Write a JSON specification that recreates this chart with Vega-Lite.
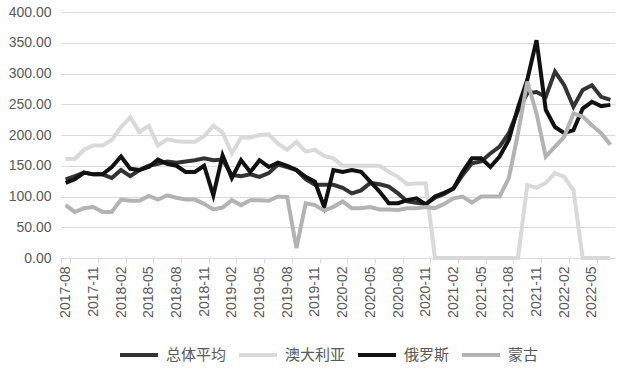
{
"$schema": "https://vega.github.io/schema/vega-lite/v6.json",
"width": 554, "height": 246,
"autosize": {"type": "none"},
"padding": {"left": 61, "top": 12, "right": 7, "bottom": 113},
"background": "white",
"config": {"view": {"stroke": null}},
"data": {"values": [
{"m":"2017-08","s":"总体平均","v":128},{"m":"2017-09","s":"总体平均","v":133},{"m":"2017-10","s":"总体平均","v":139},{"m":"2017-11","s":"总体平均","v":136},{"m":"2017-12","s":"总体平均","v":136},{"m":"2018-01","s":"总体平均","v":130},{"m":"2018-02","s":"总体平均","v":143},{"m":"2018-03","s":"总体平均","v":133},{"m":"2018-04","s":"总体平均","v":143},{"m":"2018-05","s":"总体平均","v":150},{"m":"2018-06","s":"总体平均","v":153},{"m":"2018-07","s":"总体平均","v":157},{"m":"2018-08","s":"总体平均","v":155},{"m":"2018-09","s":"总体平均","v":157},{"m":"2018-10","s":"总体平均","v":159},{"m":"2018-11","s":"总体平均","v":162},{"m":"2018-12","s":"总体平均","v":159},{"m":"2019-01","s":"总体平均","v":160},{"m":"2019-02","s":"总体平均","v":135},{"m":"2019-03","s":"总体平均","v":133},{"m":"2019-04","s":"总体平均","v":136},{"m":"2019-05","s":"总体平均","v":132},{"m":"2019-06","s":"总体平均","v":138},{"m":"2019-07","s":"总体平均","v":152},{"m":"2019-08","s":"总体平均","v":148},{"m":"2019-09","s":"总体平均","v":143},{"m":"2019-10","s":"总体平均","v":128},{"m":"2019-11","s":"总体平均","v":119},{"m":"2019-12","s":"总体平均","v":119},{"m":"2020-01","s":"总体平均","v":119},{"m":"2020-02","s":"总体平均","v":114},{"m":"2020-03","s":"总体平均","v":105},{"m":"2020-04","s":"总体平均","v":110},{"m":"2020-05","s":"总体平均","v":122},{"m":"2020-06","s":"总体平均","v":120},{"m":"2020-07","s":"总体平均","v":116},{"m":"2020-08","s":"总体平均","v":105},{"m":"2020-09","s":"总体平均","v":92},{"m":"2020-10","s":"总体平均","v":90},{"m":"2020-11","s":"总体平均","v":88},{"m":"2020-12","s":"总体平均","v":98},{"m":"2021-01","s":"总体平均","v":104},{"m":"2021-02","s":"总体平均","v":113},{"m":"2021-03","s":"总体平均","v":135},{"m":"2021-04","s":"总体平均","v":154},{"m":"2021-05","s":"总体平均","v":157},{"m":"2021-06","s":"总体平均","v":170},{"m":"2021-07","s":"总体平均","v":181},{"m":"2021-08","s":"总体平均","v":203},{"m":"2021-09","s":"总体平均","v":240},{"m":"2021-10","s":"总体平均","v":268},{"m":"2021-11","s":"总体平均","v":270},{"m":"2021-12","s":"总体平均","v":262},{"m":"2022-01","s":"总体平均","v":303},{"m":"2022-02","s":"总体平均","v":281},{"m":"2022-03","s":"总体平均","v":246},{"m":"2022-04","s":"总体平均","v":273},{"m":"2022-05","s":"总体平均","v":281},{"m":"2022-06","s":"总体平均","v":262},{"m":"2022-07","s":"总体平均","v":257},
{"m":"2017-08","s":"澳大利亚","v":161},{"m":"2017-09","s":"澳大利亚","v":161},{"m":"2017-10","s":"澳大利亚","v":176},{"m":"2017-11","s":"澳大利亚","v":183},{"m":"2017-12","s":"澳大利亚","v":183},{"m":"2018-01","s":"澳大利亚","v":192},{"m":"2018-02","s":"澳大利亚","v":213},{"m":"2018-03","s":"澳大利亚","v":229},{"m":"2018-04","s":"澳大利亚","v":205},{"m":"2018-05","s":"澳大利亚","v":215},{"m":"2018-06","s":"澳大利亚","v":183},{"m":"2018-07","s":"澳大利亚","v":193},{"m":"2018-08","s":"澳大利亚","v":190},{"m":"2018-09","s":"澳大利亚","v":189},{"m":"2018-10","s":"澳大利亚","v":189},{"m":"2018-11","s":"澳大利亚","v":198},{"m":"2018-12","s":"澳大利亚","v":215},{"m":"2019-01","s":"澳大利亚","v":204},{"m":"2019-02","s":"澳大利亚","v":170},{"m":"2019-03","s":"澳大利亚","v":196},{"m":"2019-04","s":"澳大利亚","v":196},{"m":"2019-05","s":"澳大利亚","v":200},{"m":"2019-06","s":"澳大利亚","v":201},{"m":"2019-07","s":"澳大利亚","v":186},{"m":"2019-08","s":"澳大利亚","v":176},{"m":"2019-09","s":"澳大利亚","v":189},{"m":"2019-10","s":"澳大利亚","v":173},{"m":"2019-11","s":"澳大利亚","v":176},{"m":"2019-12","s":"澳大利亚","v":166},{"m":"2020-01","s":"澳大利亚","v":162},{"m":"2020-02","s":"澳大利亚","v":150},{"m":"2020-03","s":"澳大利亚","v":150},{"m":"2020-04","s":"澳大利亚","v":150},{"m":"2020-05","s":"澳大利亚","v":150},{"m":"2020-06","s":"澳大利亚","v":150},{"m":"2020-07","s":"澳大利亚","v":140},{"m":"2020-08","s":"澳大利亚","v":132},{"m":"2020-09","s":"澳大利亚","v":120},{"m":"2020-10","s":"澳大利亚","v":121},{"m":"2020-11","s":"澳大利亚","v":121},{"m":"2020-12","s":"澳大利亚","v":0},{"m":"2021-01","s":"澳大利亚","v":0},{"m":"2021-02","s":"澳大利亚","v":0},{"m":"2021-03","s":"澳大利亚","v":0},{"m":"2021-04","s":"澳大利亚","v":0},{"m":"2021-05","s":"澳大利亚","v":0},{"m":"2021-06","s":"澳大利亚","v":0},{"m":"2021-07","s":"澳大利亚","v":0},{"m":"2021-08","s":"澳大利亚","v":0},{"m":"2021-09","s":"澳大利亚","v":0},{"m":"2021-10","s":"澳大利亚","v":119},{"m":"2021-11","s":"澳大利亚","v":114},{"m":"2021-12","s":"澳大利亚","v":122},{"m":"2022-01","s":"澳大利亚","v":138},{"m":"2022-02","s":"澳大利亚","v":132},{"m":"2022-03","s":"澳大利亚","v":110},{"m":"2022-04","s":"澳大利亚","v":0},{"m":"2022-05","s":"澳大利亚","v":0},{"m":"2022-06","s":"澳大利亚","v":0},{"m":"2022-07","s":"澳大利亚","v":0},
{"m":"2017-08","s":"俄罗斯","v":122},{"m":"2017-09","s":"俄罗斯","v":128},{"m":"2017-10","s":"俄罗斯","v":139},{"m":"2017-11","s":"俄罗斯","v":136},{"m":"2017-12","s":"俄罗斯","v":136},{"m":"2018-01","s":"俄罗斯","v":148},{"m":"2018-02","s":"俄罗斯","v":165},{"m":"2018-03","s":"俄罗斯","v":145},{"m":"2018-04","s":"俄罗斯","v":143},{"m":"2018-05","s":"俄罗斯","v":148},{"m":"2018-06","s":"俄罗斯","v":160},{"m":"2018-07","s":"俄罗斯","v":153},{"m":"2018-08","s":"俄罗斯","v":150},{"m":"2018-09","s":"俄罗斯","v":140},{"m":"2018-10","s":"俄罗斯","v":140},{"m":"2018-11","s":"俄罗斯","v":150},{"m":"2018-12","s":"俄罗斯","v":102},{"m":"2019-01","s":"俄罗斯","v":167},{"m":"2019-02","s":"俄罗斯","v":130},{"m":"2019-03","s":"俄罗斯","v":159},{"m":"2019-04","s":"俄罗斯","v":140},{"m":"2019-05","s":"俄罗斯","v":159},{"m":"2019-06","s":"俄罗斯","v":148},{"m":"2019-07","s":"俄罗斯","v":155},{"m":"2019-08","s":"俄罗斯","v":150},{"m":"2019-09","s":"俄罗斯","v":143},{"m":"2019-10","s":"俄罗斯","v":132},{"m":"2019-11","s":"俄罗斯","v":124},{"m":"2019-12","s":"俄罗斯","v":83},{"m":"2020-01","s":"俄罗斯","v":143},{"m":"2020-02","s":"俄罗斯","v":140},{"m":"2020-03","s":"俄罗斯","v":143},{"m":"2020-04","s":"俄罗斯","v":140},{"m":"2020-05","s":"俄罗斯","v":124},{"m":"2020-06","s":"俄罗斯","v":108},{"m":"2020-07","s":"俄罗斯","v":89},{"m":"2020-08","s":"俄罗斯","v":89},{"m":"2020-09","s":"俄罗斯","v":94},{"m":"2020-10","s":"俄罗斯","v":97},{"m":"2020-11","s":"俄罗斯","v":87},{"m":"2020-12","s":"俄罗斯","v":100},{"m":"2021-01","s":"俄罗斯","v":106},{"m":"2021-02","s":"俄罗斯","v":113},{"m":"2021-03","s":"俄罗斯","v":140},{"m":"2021-04","s":"俄罗斯","v":162},{"m":"2021-05","s":"俄罗斯","v":162},{"m":"2021-06","s":"俄罗斯","v":148},{"m":"2021-07","s":"俄罗斯","v":165},{"m":"2021-08","s":"俄罗斯","v":192},{"m":"2021-09","s":"俄罗斯","v":245},{"m":"2021-10","s":"俄罗斯","v":290},{"m":"2021-11","s":"俄罗斯","v":354},{"m":"2021-12","s":"俄罗斯","v":241},{"m":"2022-01","s":"俄罗斯","v":213},{"m":"2022-02","s":"俄罗斯","v":203},{"m":"2022-03","s":"俄罗斯","v":208},{"m":"2022-04","s":"俄罗斯","v":243},{"m":"2022-05","s":"俄罗斯","v":254},{"m":"2022-06","s":"俄罗斯","v":247},{"m":"2022-07","s":"俄罗斯","v":249},
{"m":"2017-08","s":"蒙古","v":86},{"m":"2017-09","s":"蒙古","v":75},{"m":"2017-10","s":"蒙古","v":81},{"m":"2017-11","s":"蒙古","v":83},{"m":"2017-12","s":"蒙古","v":75},{"m":"2018-01","s":"蒙古","v":75},{"m":"2018-02","s":"蒙古","v":95},{"m":"2018-03","s":"蒙古","v":93},{"m":"2018-04","s":"蒙古","v":93},{"m":"2018-05","s":"蒙古","v":101},{"m":"2018-06","s":"蒙古","v":95},{"m":"2018-07","s":"蒙古","v":102},{"m":"2018-08","s":"蒙古","v":98},{"m":"2018-09","s":"蒙古","v":95},{"m":"2018-10","s":"蒙古","v":95},{"m":"2018-11","s":"蒙古","v":88},{"m":"2018-12","s":"蒙古","v":79},{"m":"2019-01","s":"蒙古","v":82},{"m":"2019-02","s":"蒙古","v":94},{"m":"2019-03","s":"蒙古","v":86},{"m":"2019-04","s":"蒙古","v":94},{"m":"2019-05","s":"蒙古","v":94},{"m":"2019-06","s":"蒙古","v":93},{"m":"2019-07","s":"蒙古","v":100},{"m":"2019-08","s":"蒙古","v":99},{"m":"2019-09","s":"蒙古","v":16},{"m":"2019-10","s":"蒙古","v":89},{"m":"2019-11","s":"蒙古","v":86},{"m":"2019-12","s":"蒙古","v":77},{"m":"2020-01","s":"蒙古","v":83},{"m":"2020-02","s":"蒙古","v":92},{"m":"2020-03","s":"蒙古","v":81},{"m":"2020-04","s":"蒙古","v":81},{"m":"2020-05","s":"蒙古","v":83},{"m":"2020-06","s":"蒙古","v":79},{"m":"2020-07","s":"蒙古","v":79},{"m":"2020-08","s":"蒙古","v":78},{"m":"2020-09","s":"蒙古","v":81},{"m":"2020-10","s":"蒙古","v":81},{"m":"2020-11","s":"蒙古","v":83},{"m":"2020-12","s":"蒙古","v":81},{"m":"2021-01","s":"蒙古","v":88},{"m":"2021-02","s":"蒙古","v":97},{"m":"2021-03","s":"蒙古","v":100},{"m":"2021-04","s":"蒙古","v":90},{"m":"2021-05","s":"蒙古","v":100},{"m":"2021-06","s":"蒙古","v":100},{"m":"2021-07","s":"蒙古","v":100},{"m":"2021-08","s":"蒙古","v":130},{"m":"2021-09","s":"蒙古","v":203},{"m":"2021-10","s":"蒙古","v":287},{"m":"2021-11","s":"蒙古","v":235},{"m":"2021-12","s":"蒙古","v":165},{"m":"2022-01","s":"蒙古","v":181},{"m":"2022-02","s":"蒙古","v":197},{"m":"2022-03","s":"蒙古","v":235},{"m":"2022-04","s":"蒙古","v":230},{"m":"2022-05","s":"蒙古","v":216},{"m":"2022-06","s":"蒙古","v":203},{"m":"2022-07","s":"蒙古","v":184}
]},
"mark": {"type": "line", "strokeWidth": 4, "strokeJoin": "miter", "strokeMiterLimit": 4},
"encoding": {
 "x": {"field": "m", "type": "ordinal", "sort": null,
   "scale": {"type": "band", "paddingInner": 0, "paddingOuter": 0},
   "bandPosition": 0.5,
   "axis": {"title": null, "values": ["2017-08","2017-11","2018-02","2018-05","2018-08","2018-11","2019-02","2019-05","2019-08","2019-11","2020-02","2020-05","2020-08","2020-11","2021-02","2021-05","2021-08","2021-11","2022-02","2022-05"],
     "labelAngle": -90, "tickBand": "extent", "tickSize": 5, "tickColor": "#d9d9d9", "domainColor": "#d9d9d9",
     "grid": false, "labelPadding": 3, "labelFont": "Liberation Sans", "labelFontSize": 14, "labelColor": "#595959"}},
 "y": {"field": "v", "type": "quantitative",
   "scale": {"domain": [0, 400], "nice": false},
   "axis": {"title": null, "values": [0,50,100,150,200,250,300,350,400], "format": ".2f",
     "domain": false, "ticks": false, "grid": true, "gridColor": "#d9d9d9", "labelPadding": 10,
     "labelFont": "Liberation Sans", "labelFontSize": 14, "labelColor": "#595959"}},
 "color": {"field": "s", "type": "nominal",
   "scale": {"domain": ["总体平均","澳大利亚","俄罗斯","蒙古"], "range": ["#333333","#d9d9d9","#111111","#b3b3b3"]},
   "legend": {"title": null, "orient": "none", "direction": "horizontal", "legendX": 57, "legendY": 322,
     "symbolType": "stroke", "symbolSize": 1444, "symbolStrokeWidth": 4, "labelFont": "Noto Sans CJK SC",
     "labelFontSize": 15, "labelColor": "#595959", "labelOffset": 6, "columnPadding": 4}}
}
}
